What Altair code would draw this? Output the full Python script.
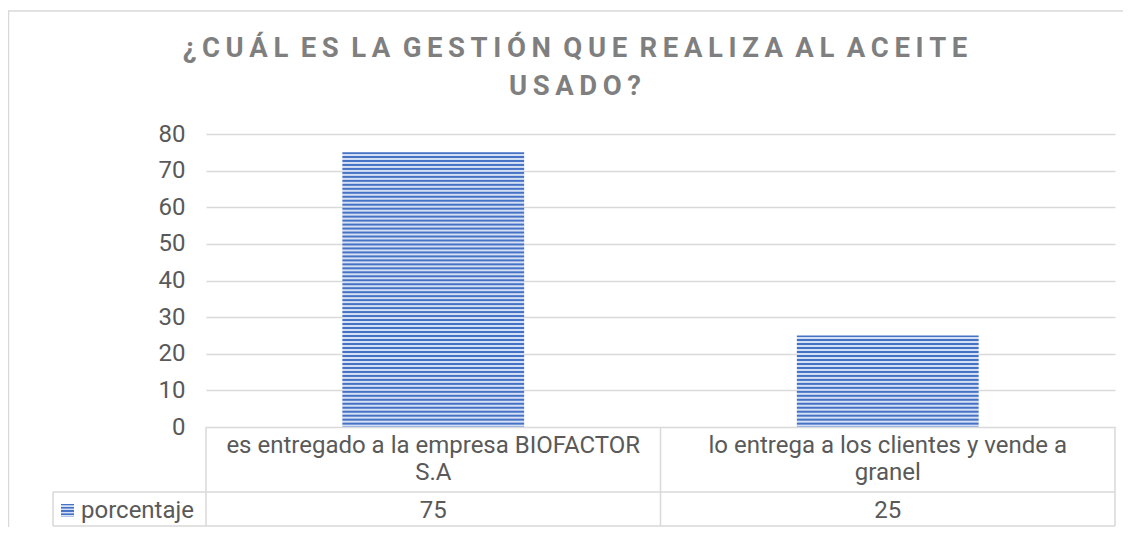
import altair as alt
import pandas as pd

# ---- data ----
categories = ["es entregado a la empresa BIOFACTOR S.A",
              "lo entrega a los clientes y vende a granel"]
values = [75, 25]
series_name = "porcentaje"
y_ticks = [0, 10, 20, 30, 40, 50, 60, 70, 80]
title_lines = ["¿CUÁL ES LA GESTIÓN QUE REALIZA AL ACEITE", "USADO?"]

# ---- layout/style ----
W, H = 909, 293
YMAX = 80
GRID = "#d9d9d9"
TXT = "#595959"
FONT = "Roboto"
FS = 24
DARK, LIGHT = "#4572c4", "#d5e0f4"
PERIOD = 4.0


def stripes(n):
    stops = []
    for i in range(n):
        p = 1 / n
        a = i * p
        stops += [{"offset": a, "color": DARK},
                  {"offset": a + 0.3 * p, "color": DARK},
                  {"offset": a + 0.5 * p, "color": LIGHT},
                  {"offset": a + 0.8 * p, "color": LIGHT}]
    stops.append({"offset": 1, "color": DARK})
    return {"gradient": "linear", "x1": 0, "y1": 0, "x2": 0, "y2": 1, "stops": stops}


def spaced(s):
    gap = "\u2009"
    return (" " + gap).join(gap.join(list(w)) for w in s.split(" "))


df = pd.DataFrame({
    "category": categories,
    "value": values,
    "lines": [c.rsplit(" ", 1) for c in categories],
})
one = pd.DataFrame({"a": [0]})

xs = alt.Scale(domain=categories, paddingInner=0.6, paddingOuter=0.3)
ys = alt.Scale(domain=[0, YMAX], nice=False)

grads = [stripes(max(1, round(v / YMAX * H / PERIOD))) for v in values]
fill = alt.condition(alt.datum.category == categories[0], alt.value(grads[0]), alt.value(grads[1]))

bars = alt.Chart(df).mark_bar().encode(
    x=alt.X("category:N", scale=xs, axis=None, sort=categories),
    y=alt.Y("value:Q", scale=ys, axis=alt.Axis(
        values=y_ticks, grid=True, gridColor=GRID, gridWidth=1.5, domain=False,
        ticks=False, labelPadding=21, labelFont=FONT, labelFontSize=FS,
        labelColor=TXT, title=None)),
    fill=fill,
)


def rule(x1, x2, y1, y2):
    return alt.Chart(one).mark_rule(color=GRID, strokeWidth=1.5).encode(
        x=alt.value(x1), x2=alt.value(x2), y=alt.value(y1), y2=alt.value(y2))


rules = [
    rule(-153, W, 358, 358),
    rule(-153, W, 392, 392),
    rule(0, 0, H, 392),
    rule(W / 2, W / 2, H, 392),
    rule(W, W, H, 392),
    rule(-153, -153, 358, 392),
    rule(-198, W + 8, -123, -123),
    rule(-197.5, -197.5, -123, 393),
]

cat_text = alt.Chart(df).mark_text(font=FONT, fontSize=FS, color=TXT,
                                   baseline="middle", lineHeight=27).encode(
    x=alt.X("category:N", scale=xs, axis=None, sort=categories),
    y=alt.value(312), text="lines:N")

val_text = alt.Chart(df).mark_text(font=FONT, fontSize=FS, color=TXT,
                                   baseline="middle").encode(
    x=alt.X("category:N", scale=xs, axis=None, sort=categories),
    y=alt.value(377), text="value:Q")

series_text = alt.Chart(one).mark_text(font=FONT, fontSize=FS, color=TXT, align="left",
                                       baseline="middle", text=series_name).encode(
    x=alt.value(-125), y=alt.value(377))

key = alt.Chart(one).mark_rect(fill=stripes(4)).encode(
    x=alt.value(-145), x2=alt.value(-132), y=alt.value(370), y2=alt.value(383))

title = alt.Chart(one).mark_text(font=FONT, fontSize=27.5, fontWeight="bold", color="#7f7f7f",
                                 align="center", baseline="middle", lineHeight=38,
                                 text=[spaced(t) for t in title_lines]).encode(
    x=alt.value(369), y=alt.value(-85))

chart = alt.layer(*rules, bars, cat_text, val_text, series_text, key, title).properties(
    width=W, height=H,
    autosize=alt.AutoSizeParams(type="none"),
    padding={"left": 198, "top": 126, "right": 8, "bottom": 100},
    background="white",
).configure_view(stroke=None)

chart.save("out.html", embed_options={"renderer": "svg", "actions": False})
